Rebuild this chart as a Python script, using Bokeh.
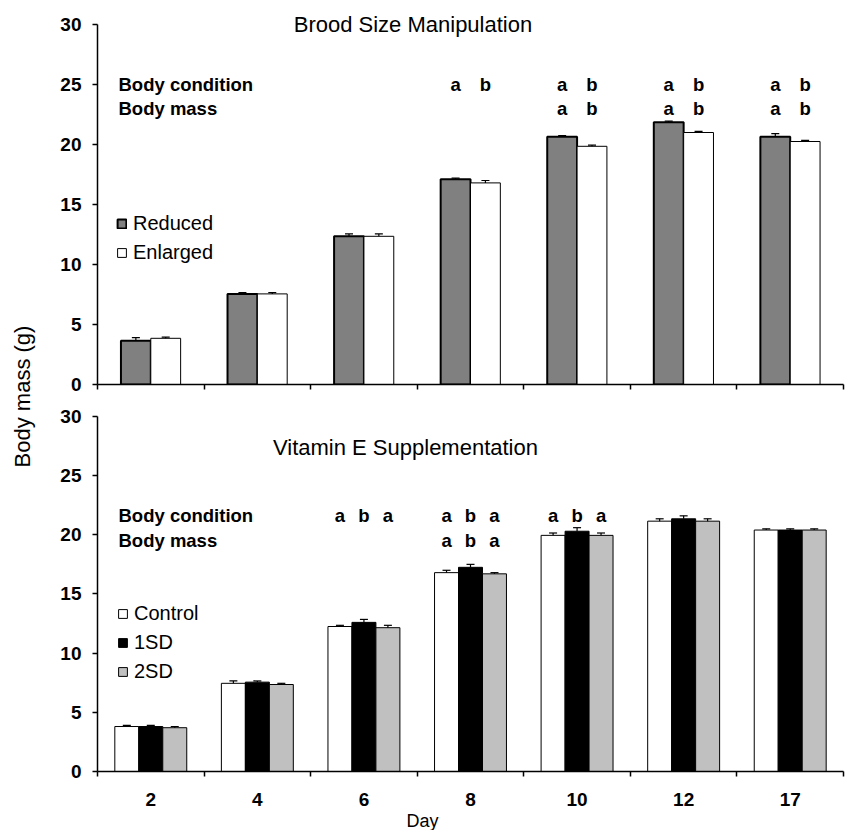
import math
from bokeh.plotting import figure
from bokeh.models import (ColumnDataSource, FixedTicker, Whisker, TeeHead, Legend,
                          LegendItem, Range1d, Title)
from bokeh.layouts import row, column
from bokeh.core.properties import value
from bokeh.embed import file_html
from bokeh.resources import INLINE

# ---------------- data ----------------
days = ["2", "4", "6", "8", "10", "12", "17"]

# Brood size manipulation
reduced = [3.65, 7.55, 12.35, 17.1, 20.65, 21.85, 20.65]
reduced_se = [0.25, 0.1, 0.2, 0.1, 0.1, 0.1, 0.25]
enlarged = [3.85, 7.55, 12.35, 16.8, 19.85, 21.0, 20.25]
enlarged_se = [0.1, 0.1, 0.2, 0.2, 0.1, 0.1, 0.1]

# Vitamin E supplementation
control = [3.8, 7.45, 12.25, 16.8, 19.95, 21.15, 20.4]
control_se = [0.1, 0.2, 0.1, 0.2, 0.2, 0.2, 0.1]
sd1 = [3.8, 7.55, 12.6, 17.25, 20.3, 21.35, 20.4]
sd1_se = [0.1, 0.1, 0.25, 0.25, 0.3, 0.25, 0.1]
sd2 = [3.7, 7.35, 12.15, 16.7, 19.95, 21.15, 20.4]
sd2_se = [0.1, 0.1, 0.2, 0.1, 0.2, 0.2, 0.1]

# significance letters
top_letters = ["a", "b"]
top_cond_days = ["8", "10", "12", "17"]
top_mass_days = ["10", "12", "17"]
bot_letters = ["a", "b", "a"]
bot_cond_days = ["6", "8", "10"]
bot_mass_days = ["8"]

yticks = [0, 5, 10, 15, 20, 25, 30]

FONT = "Liberation Sans"
n = len(days)
centers = [i + 0.5 for i in range(n)]


def style(p, show_labels):
    p.outline_line_color = None
    p.xgrid.visible = False
    p.ygrid.visible = False
    p.background_fill_color = "white"
    p.border_fill_color = "white"
    ya = p.yaxis[0]
    ya.ticker = FixedTicker(ticks=yticks, minor_ticks=[])
    ya.bounds = (0, 30)
    ya.major_tick_in = 0
    ya.major_tick_out = 5
    ya.minor_tick_out = 0
    ya.minor_tick_in = 0
    ya.major_label_standoff = 11
    ya.major_label_text_font = FONT
    ya.major_label_text_font_style = "bold"
    ya.major_label_text_font_size = "19px"
    ya.major_label_text_color = "black"
    ya.axis_line_color = "black"
    ya.axis_line_width = 1.5
    ya.major_tick_line_width = 1.5
    xa = p.xaxis[0]
    if show_labels:
        xa.ticker = FixedTicker(ticks=centers, minor_ticks=list(range(n + 1)))
        xa.major_label_overrides = {c: d for c, d in zip(centers, days)}
        xa.major_label_text_font_size = "19px"
        xa.major_label_standoff = 16
    else:
        xa.ticker = FixedTicker(ticks=[], minor_ticks=list(range(n + 1)))
        xa.major_label_standoff = 0
    xa.bounds = (0, n)
    xa.major_tick_in = 0
    xa.major_tick_out = 0
    xa.minor_tick_in = 0
    xa.minor_tick_out = 5
    xa.axis_line_color = "black"
    xa.axis_line_width = 1.5
    xa.minor_tick_line_width = 1.5
    xa.major_label_text_font = FONT
    xa.major_label_text_font_style = "bold"
    xa.major_label_text_color = "black"


def bars(p, values, errs, offset, width, fill, lw):
    src = ColumnDataSource(dict(
        x=[c + offset for c in centers],
        top=values,
        upper=[v + e for v, e in zip(values, errs)],
    ))
    r = p.vbar(x="x", top="top", bottom=0, width=width, source=src,
               fill_color=fill, line_color="black", line_width=lw)
    w = Whisker(source=src, base="x", upper="upper", lower="top",
                upper_head=TeeHead(size=8, line_width=1.2, line_color="black"),
                lower_head=None, line_color="black", line_width=1.2, level="overlay")
    p.add_layout(w)
    return r


def letters(p, cond_days, mass_days, lets, offsets, y_cond, y_mass):
    xs, ys, ts = [], [], []
    for d in cond_days:
        i = days.index(d)
        for o, t in zip(offsets, lets):
            xs.append(centers[i] + o); ys.append(y_cond); ts.append(t)
    for d in mass_days:
        i = days.index(d)
        for o, t in zip(offsets, lets):
            xs.append(centers[i] + o); ys.append(y_mass); ts.append(t)
    p.text(x=xs, y=ys, text=ts, text_font=value(FONT), text_font_style="bold",
           text_font_size="18.5px", text_align="center", text_baseline="middle",
           text_color="black")


def row_labels(p, y_cond, y_mass):
    p.text(x=[0.197, 0.197], y=[y_cond, y_mass], text=["Body condition", "Body mass"],
           text_font=value(FONT), text_font_style="bold", text_font_size="18.5px",
           text_align="left", text_baseline="middle", text_color="black")


def make_legend(p, items, loc):
    lg = Legend(items=items, location=loc, orientation="vertical",
                glyph_width=11, glyph_height=11, label_height=20, spacing=6,
                padding=0, margin=0, border_line_color=None,
                background_fill_alpha=0, label_standoff=6,
                label_text_font=FONT, label_text_font_size="20px",
                label_text_color="black")
    p.add_layout(lg)


# ---------------- top panel ----------------
top = figure(frame_width=746, frame_height=374, x_range=Range1d(0, n),
             y_range=Range1d(0, 374 / 12.0), output_backend="svg",
             toolbar_location=None, min_border_left=49, min_border_right=2,
             min_border_top=10, min_border_bottom=10)
style(top, False)
bw_t = 0.28
r_red = bars(top, reduced, reduced_se, -bw_t / 2, bw_t, "#808080", 2)
r_enl = bars(top, enlarged, enlarged_se, bw_t / 2, bw_t, "white", 1)
top.text(x=[2.96], y=[30.0], text=["Brood Size Manipulation"], text_font=value(FONT),
         text_font_size="22px", text_align="center", text_baseline="middle",
         text_color="black")
row_labels(top, 25.0, 23.0)
letters(top, top_cond_days, top_mass_days, top_letters, [-bw_t / 2, bw_t / 2], 25.0, 23.0)
make_legend(top, [LegendItem(label="Reduced", renderers=[r_red]),
                  LegendItem(label="Enlarged", renderers=[r_enl])], (19, 120))

# ---------------- bottom panel ----------------
bot = figure(frame_width=746, frame_height=361, x_range=Range1d(0, n),
             y_range=Range1d(0, 30.5), output_backend="svg",
             toolbar_location=None, min_border_left=49, min_border_right=2,
             min_border_top=16, min_border_bottom=20)
style(bot, True)
bw_b = 0.225
r_c = bars(bot, control, control_se, -bw_b, bw_b, "white", 1)
r_1 = bars(bot, sd1, sd1_se, 0, bw_b, "black", 1)
r_2 = bars(bot, sd2, sd2_se, bw_b, bw_b, "#C0C0C0", 1)
bot.text(x=[2.89], y=[27.4], text=["Vitamin E Supplementation"], text_font=value(FONT),
         text_font_size="22px", text_align="center", text_baseline="middle",
         text_color="black")
row_labels(bot, 21.6, 19.5)
letters(bot, bot_cond_days, bot_mass_days, bot_letters, [-bw_b, 0, bw_b], 21.6, 19.5)
make_legend(bot, [LegendItem(label="Control", renderers=[r_c]),
                  LegendItem(label="1SD", renderers=[r_1]),
                  LegendItem(label="2SD", renderers=[r_2])], (20, 88))
bot.add_layout(Title(text="Day", align="left", offset=309, standoff=0,
                     text_font=FONT, text_font_size="18px", text_font_style="normal",
                     text_color="black"), "below")

# ---------------- shared y label ----------------
lab = figure(width=48, height=800, x_range=Range1d(0, 48), y_range=Range1d(0, 800),
             output_backend="svg", toolbar_location=None, min_border=0,
             x_axis_location=None, y_axis_location=None)
lab.outline_line_color = None
lab.xgrid.visible = False
lab.ygrid.visible = False
lab.text(x=[22], y=[404], text=["Body mass (g)"], angle=math.pi / 2,
         text_font=value(FONT), text_font_size="22px", text_align="center",
         text_baseline="middle", text_color="black")

layout = row(lab, column(top, bot))
open("out.html", "w").write(file_html(layout, INLINE))
